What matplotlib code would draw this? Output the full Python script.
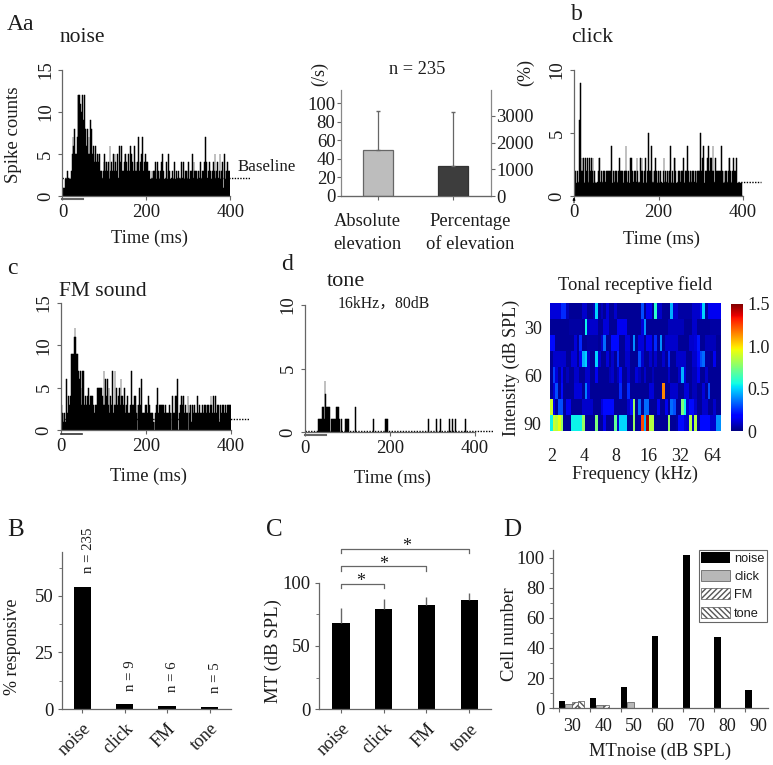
import matplotlib
matplotlib.use("Agg")
import matplotlib.pyplot as plt
import numpy as np

W, H = 773, 765
GRAY = "#666666"
TXT = "#1c1c1c"

plt.rcParams["font.family"] = ["Liberation Serif", "Noto Sans CJK SC"]
plt.rcParams["text.color"] = TXT
plt.rcParams["axes.labelcolor"] = TXT
plt.rcParams["xtick.labelcolor"] = TXT
plt.rcParams["ytick.labelcolor"] = TXT

# spike counts, one value per 2 ms bin
noise_counts = [
    1, 1, 1, 2, 2, 3, 2, 2, 2, 2, 3, 5, 7, 6, 8, 5, 5, 7, 12, 12,
    12, 11, 10, 12, 9, 8, 12, 8, 6, 8, 5, 7, 5, 9, 8, 5, 6, 5, 4, 6,
    4, 5, 4, 5, 5, 3, 3, 2, 3, 5, 4, 3, 4, 3, 4, 2, 6, 3, 4, 3,
    5, 3, 5, 4, 3, 5, 2, 6, 3, 4, 6, 3, 3, 4, 5, 5, 4, 3, 5, 3,
    6, 3, 5, 4, 3, 6, 3, 4, 3, 4, 7, 3, 4, 4, 5, 7, 3, 4, 5, 3,
    4, 4, 3, 3, 2, 2, 3, 2, 3, 3, 4, 2, 3, 4, 3, 2, 3, 4, 4, 5,
    3, 2, 2, 4, 3, 2, 5, 3, 2, 2, 3, 2, 2, 4, 2, 3, 2, 2, 3, 2,
    2, 4, 2, 2, 4, 2, 3, 3, 2, 3, 4, 2, 3, 3, 5, 2, 4, 3, 3, 3,
    2, 3, 3, 2, 4, 2, 3, 3, 3, 4, 7, 4, 2, 3, 2, 4, 3, 2, 3, 4,
    3, 5, 2, 3, 4, 2, 3, 5, 2, 3, 4, 1, 5, 3, 2, 3, 4, 3, 3, 0,
]
click_counts = [
    2, 2, 1, 1, 2, 1, 6, 9, 2, 3, 2, 3, 1, 3, 2, 3, 2, 1, 3, 2,
    3, 2, 3, 1, 2, 1, 1, 1, 2, 3, 3, 1, 2, 1, 2, 2, 2, 1, 2, 2,
    2, 1, 2, 2, 4, 1, 2, 1, 2, 2, 2, 1, 2, 3, 1, 2, 2, 2, 1, 2,
    2, 4, 2, 1, 2, 1, 3, 2, 3, 2, 1, 2, 2, 1, 3, 2, 1, 1, 3, 2,
    3, 2, 1, 2, 3, 1, 2, 2, 5, 2, 2, 4, 1, 2, 1, 2, 3, 2, 1, 2,
    2, 1, 2, 1, 1, 2, 3, 1, 2, 1, 2, 1, 2, 2, 4, 1, 2, 1, 3, 3,
    2, 1, 1, 2, 2, 2, 1, 2, 2, 3, 1, 2, 2, 2, 4, 2, 1, 2, 2, 1,
    2, 2, 1, 2, 1, 2, 2, 2, 2, 5, 2, 2, 3, 4, 1, 2, 2, 3, 2, 4,
    2, 3, 3, 2, 4, 2, 1, 3, 2, 2, 2, 2, 2, 2, 4, 2, 1, 2, 1, 2,
    2, 1, 2, 3, 3, 2, 1, 2, 3, 2, 2, 2, 3, 1, 1, 1, 1, 1, 1, 0,
]
fm_counts = [
    3, 2, 1, 2, 2, 1, 6, 2, 4, 3, 3, 4, 9, 9, 9, 11, 12, 11, 9, 9,
    7, 6, 7, 5, 3, 7, 7, 3, 4, 3, 3, 4, 5, 3, 4, 4, 3, 4, 3, 2,
    3, 3, 5, 2, 5, 5, 5, 5, 4, 3, 7, 3, 6, 4, 6, 3, 5, 2, 4, 3,
    7, 2, 3, 7, 3, 5, 3, 4, 5, 3, 6, 4, 4, 3, 5, 2, 3, 3, 4, 2,
    2, 3, 7, 2, 3, 3, 4, 4, 2, 3, 2, 3, 5, 3, 6, 2, 2, 2, 2, 3,
    3, 2, 4, 2, 3, 2, 2, 2, 1, 1, 1, 2, 3, 5, 2, 3, 3, 3, 3, 3,
    3, 2, 3, 2, 2, 2, 2, 3, 2, 2, 2, 4, 2, 2, 4, 4, 2, 6, 0, 2,
    3, 4, 3, 4, 4, 2, 3, 2, 2, 4, 3, 2, 3, 1, 3, 2, 3, 3, 2, 2,
    4, 2, 3, 2, 2, 2, 3, 2, 3, 3, 3, 2, 3, 3, 2, 3, 4, 3, 2, 4,
    2, 4, 2, 2, 3, 3, 1, 3, 2, 3, 3, 3, 2, 3, 2, 3, 2, 3, 3, 3,
]
tone_times = [30, 32, 34, 36, 38, 40, 42, 44, 46, 48, 50, 52, 54, 56, 62, 64, 66, 68, 70,
              72, 74, 76, 78, 80, 84, 94, 96, 98, 102, 118, 161, 188, 190, 194, 290, 308, 318, 338, 346, 354, 376]
tone_counts = [1, 1, 1, 1, 1, 2, 2, 1, 4, 3, 2, 2, 2, 2, 1, 1, 1, 1, 1,
               1, 2, 2, 2, 1, 1, 1, 1, 1, 1, 2, 1, 1, 1, 1, 1, 1, 1, 1, 1, 1, 1]

# tonal receptive field, 8 intensities x 64 frequencies
trf_rows = [
    [.12, .12, .12, .12, .25, .25, .08, .03, .03, .03, .03, .03, .1, .1, .03, .03, .08, .5, .03, .08, .03, .12, .03, .03, .1, .03, .03, .03, .03, .03, .03, .03, .03, .03, .3, .03, .15, .15, .03, .6, .1, .1, .03, .03, .03, .45, .1, .1, .05, .05, .05, .05, .05, .1, .1, .1, .2, .5, .05, .15, .15, .15, .15, .15],
    [.03, .03, .03, .03, .03, .03, .03, .05, .05, .05, .05, .05, .03, .55, .1, .1, .1, .1, .03, .03, .12, .12, .03, .03, .03, .15, .15, .15, .15, .03, .03, .03, .03, .03, .12, .4, .03, .03, .03, .03, .03, .03, .03, .03, .08, .08, .08, .08, .08, .08, .03, .03, .03, .1, .1, .03, .03, .03, .03, .03, .05, .05, .05, .05],
    [.2, .2, .03, .03, .03, .03, .03, .03, .03, .12, .03, .25, .03, .03, .05, .05, .05, .05, .03, .1, .35, .03, .03, .2, .2, .2, .03, .03, .12, .12, .03, .4, .03, .12, .12, .03, .15, .15, .03, .25, .03, .4, .03, .1, .1, .1, .1, .1, .03, .03, .03, .03, .1, .1, .12, .22, .03, .03, .08, .08, .08, .08, .03, .03],
    [.03, .1, .1, .1, .1, .1, .03, .03, .12, .12, .03, .15, .45, .5, .1, .03, .03, .5, .1, .03, .03, .12, .03, .1, .03, .25, .03, .03, .1, .1, .03, .03, .03, .3, .1, .03, .03, .1, .03, .1, .03, .03, .1, .03, .25, .03, .03, .1, .1, .1, .1, .03, .03, .1, .1, .2, .3, .35, .05, .05, .03, .15, .03, .03],
    [.03, .28, .12, .03, .15, .03, .08, .03, .03, .1, .1, .03, .03, .1, .1, .03, .03, .15, .03, .03, .03, .03, .08, .1, .03, .08, .2, .03, .03, .1, .03, .03, .12, .08, .03, .1, .03, .03, .08, .03, .03, .03, .03, .03, .1, .03, .03, .03, .1, .45, .12, .03, .03, .08, .08, .15, .03, .03, .1, .03, .03, .03, .03, .03],
    [.03, .12, .3, .03, .2, .03, .03, .03, .03, .12, .12, .12, .03, .38, .12, .03, .03, .03, .03, .03, .03, .03, .03, .03, .03, .03, .25, .03, .03, .25, .03, .03, .03, .03, .03, .03, .03, .12, .12, .03, .03, .03, 1.15, .03, .03, .1, .1, .1, .03, .03, .12, .12, .03, .08, .08, .03, .03, .12, .03, .3, .03, .03, .03, .03],
    [.9, .15, .03, .3, .3, .03, .15, .15, .03, .03, .03, .03, .1, .1, .1, .1, .03, .03, .03, .12, .2, .2, .2, .2, .03, .03, .03, .03, .03, .1, .2, .8, .03, .35, .03, .35, .35, .03, .03, .03, .15, .03, .03, .15, .03, .35, .3, .03, .03, .75, .55, .1, .2, .2, .1, .03, .03, .1, .1, .03, .03, .1, .03, .03],
    [.55, .9, .85, .95, .8, .03, .03, .03, .55, .55, .55, .55, .8, .03, .03, .03, .03, .75, .03, .03, .15, .03, .03, .03, .7, .1, .5, .5, .5, .03, .03, .8, .03, .05, 1.25, .45, 1.45, .85, .85, .03, .03, .03, .03, .03, .8, .03, .03, .05, .2, .2, .12, .1, .85, .1, .85, .05, .2, .2, .2, .2, .1, .1, .4, .4],
]
trf_freq_labels = ["2", "4", "8", "16", "32", "64"]
trf_db_labels = ["30", "60", "90"]

elev_labels = ["Absolute\nelevation", "Percentage\nof elevation"]
elev_abs = 50
elev_abs_err = 41
elev_pct = 1130
elev_pct_err = 2030

stim_names = ["noise", "click", "FM", "tone"]
responsive = [54, 2, 1.2, 1]
responsive_n = ["n = 235", "n = 9", "n = 6", "n = 5"]
mt_mean = [68, 79, 82, 86]
mt_err = [12, 8, 7, 6]

mt_bins = ["30", "40", "50", "60", "70", "80", "90"]
d_noise = [5, 7, 14, 48, 102, 47, 12]
d_click = [3, 2, 4, 0, 0, 0, 0]
d_fm = [4, 2, 0, 0, 0, 0, 0]
d_tone = [5, 0, 0, 0, 0, 0, 0]


def add_ax(x0, x1, ytop, ybot):
    """pixel box to figure axes"""
    return fig.add_axes([x0 / W, 1 - ybot / H, (x1 - x0) / W, (ybot - ytop) / H])


def put(x, y, s, size=12, **kw):
    kw.setdefault("ha", "left")
    kw.setdefault("va", "center")
    fig.text(x / W, 1 - y / H, s, fontsize=size, **kw)


def style(ax):
    for side in ["top", "right"]:
        ax.spines[side].set_visible(False)
    for side in ["left", "bottom"]:
        ax.spines[side].set_color(GRAY)
        ax.spines[side].set_linewidth(0.9)
    ax.tick_params(colors=GRAY, labelcolor=TXT, length=3, width=0.8, pad=3)
    ax.patch.set_alpha(0)


def psth(box, times, counts, ymax, yticks, baseline, xend, xlabel_y):
    ax = add_ax(*box)
    style(ax)
    ax.bar(times, counts, width=2, align="edge", color="black", edgecolor="black", linewidth=0.35)
    ax.plot([0, xend], [baseline, baseline], color="black", lw=1, ls=(0, (1, 1)), clip_on=False)
    ax.set_xlim(0, 400)
    ax.set_ylim(0, ymax)
    ax.set_xticks([0, 200, 400])
    ax.set_yticks(yticks)
    ax.tick_params(axis="both", labelsize=13.5)
    plt.setp(ax.get_yticklabels(), rotation=90, va="center")
    put((box[0] + box[1]) / 2 + 3, xlabel_y, "Time (ms)", 13.3, ha="center")
    return ax


fig = plt.figure(figsize=(W / 100, H / 100), dpi=100)
bins = np.arange(200) * 2

# noise
ax = psth((62.5, 230.5, 70, 196), bins, noise_counts, 15, [0, 5, 10, 15], 2.1, 446, 238)
ax.plot([0, 50], [-0.35, -0.35], color=GRAY, lw=1.5, clip_on=False)
put(238, 167, "Baseline", 12.2)
put(14, 135, "Spike counts", 13.5, rotation=90, ha="center")

# click
ax = psth((574, 743, 70, 196), bins, click_counts, 10, [0, 5, 10], 1.1, 442, 239)
ax.annotate("", xy=(0, -0.1), xytext=(0, -0.55), annotation_clip=False,
            arrowprops=dict(arrowstyle="-|>", color="black", lw=0.7, mutation_scale=3.5, shrinkA=0, shrinkB=0))

# FM
ax = psth((61, 231, 303, 430), bins, fm_counts, 15, [0, 5, 10, 15], 1.35, 442, 476)
ax.plot([0, 50], [-0.45, -0.45], color="#333333", lw=1.2, clip_on=False)

# tone
ax = psth((305, 475, 305, 432), tone_times, tone_counts, 10, [0, 5, 10], 0.1, 442, 478)
ax.plot([0, 50], [-0.25, -0.25], color=GRAY, lw=1.5, clip_on=False)

# elevation bars
ax = add_ax(341, 491, 90, 196)
style(ax)
ax.spines["left"].set_color("#888888")
ax.bar([0], [elev_abs], width=0.4, color="#bdbdbd", edgecolor=GRAY, linewidth=0.9)
ax.errorbar([0], [elev_abs], yerr=[[0], [elev_abs_err]], color=GRAY, lw=0.9, capsize=1.5)
ax.set_xlim(-0.493, 1.507)
ax.set_ylim(0, 114)
ax.set_xticks([0, 1])
ax.set_xticklabels([])
ax.set_yticks([0, 20, 40, 60, 80, 100])
ax.tick_params(axis="y", labelsize=13.5, pad=1)
ax2 = ax.twinx()
for side in ["top", "left"]:
    ax2.spines[side].set_visible(False)
ax2.spines["bottom"].set_color(GRAY)
ax2.spines["right"].set_color("#888888")
ax2.spines["right"].set_linewidth(0.9)
ax2.bar([1], [elev_pct], width=0.4, color="#3d3d3d", edgecolor="#333333", linewidth=0.9)
ax2.errorbar([1], [elev_pct], yerr=[[0], [elev_pct_err]], color=GRAY, lw=0.9, capsize=1.5)
ax2.set_ylim(0, 3970)
ax2.set_yticks([0, 1000, 2000, 3000])
ax2.tick_params(axis="y", colors=GRAY, labelcolor=TXT, labelsize=13.5, length=3, width=0.8, pad=1)
put(367, 233, elev_labels[0], 13.3, ha="center", linespacing=1.45)
put(470, 233, elev_labels[1], 13.3, ha="center", linespacing=1.45)
put(417, 69, "n = 235", 13.2, ha="center")
put(320, 74, "(/s)", 13, rotation=90, ha="center")
put(526, 73, "(%)", 13, rotation=90, ha="center")

# tonal receptive field
ax = add_ax(550, 721, 303, 431)
ax.imshow(np.array(trf_rows), cmap="jet", vmin=0, vmax=1.5, aspect="auto", interpolation="nearest")
ax.set_xticks([0.3 + 12 * i for i in range(6)])
ax.set_xticklabels(trf_freq_labels)
ax.set_yticks([1, 4, 7])
ax.set_yticklabels(trf_db_labels)
ax.tick_params(length=0, labelsize=13, pad=12)
ax.tick_params(axis="y", pad=6)
for s in ax.spines.values():
    s.set_visible(False)
cax = add_ax(731, 743, 304, 431)
cb = fig.colorbar(ax.images[0], cax=cax)
cb.set_ticks([0, 0.5, 1.0, 1.5])
cb.set_ticklabels(["0", "0.5", "1.0", "1.5"])
cb.ax.tick_params(length=0, labelsize=13, pad=3)
cb.outline.set_visible(False)
put(635, 285, "Tonal receptive field", 13.4, ha="center")
put(635, 474, "Frequency (kHz)", 13.3, ha="center")
put(511, 368, "Intensity (dB SPL)", 13, rotation=90, ha="center")

# B
ax = add_ax(61.7, 230.7, 551.7, 709)
style(ax)
ax.bar(range(4), responsive, width=0.41, color="black")
ax.set_xlim(-0.49, 3.5)
ax.set_ylim(0, 69.6)
ax.set_xticks(range(4))
ax.set_xticklabels(stim_names, rotation=45, ha="right", rotation_mode="anchor", fontsize=13)
ax.set_yticks([0, 25, 50])
ax.set_yticks([12.5, 37.5, 62.5], minor=True)
ax.tick_params(axis="y", which="minor", colors=GRAY, length=2)
ax.tick_params(axis="y", labelsize=13.5)
ax.tick_params(axis="x", pad=5)
for i, label in enumerate(responsive_n):
    ax.annotate(label, (i, responsive[i]), xytext=(4, 10), textcoords="offset points",
                rotation=90, ha="center", va="bottom", fontsize=10.6, annotation_clip=False)
put(13, 647, "% responsive", 13, rotation=90, ha="center")

# C
ax = add_ax(319, 490.7, 582.7, 709.3)
style(ax)
ax.bar(range(4), mt_mean, width=0.41, color="black")
ax.errorbar(range(4), mt_mean, yerr=[[0] * 4, mt_err], color=GRAY, ls="none", lw=1, capsize=0)
ax.set_xlim(-0.51, 3.5)
ax.set_ylim(0, 100)
ax.set_xticks(range(4))
ax.set_xticklabels(stim_names, rotation=45, ha="right", rotation_mode="anchor", fontsize=13)
ax.set_yticks([0, 50, 100])
ax.set_yticks([25, 75], minor=True)
ax.tick_params(axis="y", which="minor", colors=GRAY, length=2)
ax.tick_params(axis="y", labelsize=13.5)
ax.tick_params(axis="x", pad=5)
for end, ytop, star_x in [(1, 99, 0.46), (2, 113, 0.99), (3, 127, 1.53)]:
    ax.plot([0, 0, end, end], [ytop - 3.5, ytop, ytop, ytop - 3.5], color=GRAY, lw=0.9, clip_on=False)
    ax.text(star_x, ytop - 5, "*", ha="center", va="bottom", fontsize=13, clip_on=False)
put(273, 651, "MT (dB SPL)", 13.5, rotation=90, ha="center")

# D
ax = add_ax(553.3, 768, 550, 708.3)
style(ax)
xpos = np.arange(7)
bw = 0.2
ax.bar(xpos, d_noise, width=bw, align="edge", color="black", label="noise")
ax.bar(xpos + bw, d_click, width=bw, align="edge", color="#b8b8b8", edgecolor="#777777", lw=0.7, label="click")
ax.bar(xpos + 2 * bw, d_fm, width=bw, align="edge", color="white", edgecolor="#555555", lw=0.5, hatch="//////", label="FM")
ax.bar(xpos + 3 * bw, d_tone, width=bw, align="edge", color="white", edgecolor="#555555", lw=0.5, hatch="\\\\\\\\\\\\", label="tone")
ax.set_xlim(-0.19, 6.73)
ax.set_ylim(0, 105)
ax.set_xticks(xpos)
ax.set_xticklabels([])
ax.set_xticks(xpos + 0.42, minor=True)
ax.set_xticklabels(mt_bins, minor=True, fontsize=13)
ax.tick_params(axis="x", which="minor", length=0, pad=7)
ax.set_yticks(range(0, 101, 20))
ax.set_yticks(range(10, 100, 20), minor=True)
ax.tick_params(axis="y", which="minor", colors=GRAY, length=2)
ax.tick_params(axis="y", labelsize=13.5)
leg = ax.legend(loc="upper left", bbox_to_anchor=((699 - 553.3) / 214.7, 1.0), prop={"family": "Liberation Sans", "size": 9.2},
                frameon=True, fancybox=False, edgecolor=GRAY, framealpha=1, borderpad=0.15, handlelength=2.25,
                handleheight=0.95, handletextpad=0.35, labelspacing=0.42, borderaxespad=0)
leg.get_frame().set_linewidth(0.8)
put(660, 751, "MTnoise (dB SPL)", 13.3, ha="center")
put(509, 634, "Cell number", 13.5, rotation=90, ha="center")

# panel letters and titles
put(7, 24, "Aa", 17)
put(60, 38, "noise", 15.5)
put(571, 14, "b", 17)
put(571, 38, "click", 15.5)
put(7, 268, "c", 17)
put(59, 291, "FM sound", 15.5)
put(281, 265, "d", 17)
put(327, 282, "tone", 16)
put(338, 304, "16kHz，80dB", 11.3)
put(7, 530, "B", 18)
put(266, 530, "C", 18)
put(503, 530, "D", 18)

fig.savefig("out.png", dpi=100)
